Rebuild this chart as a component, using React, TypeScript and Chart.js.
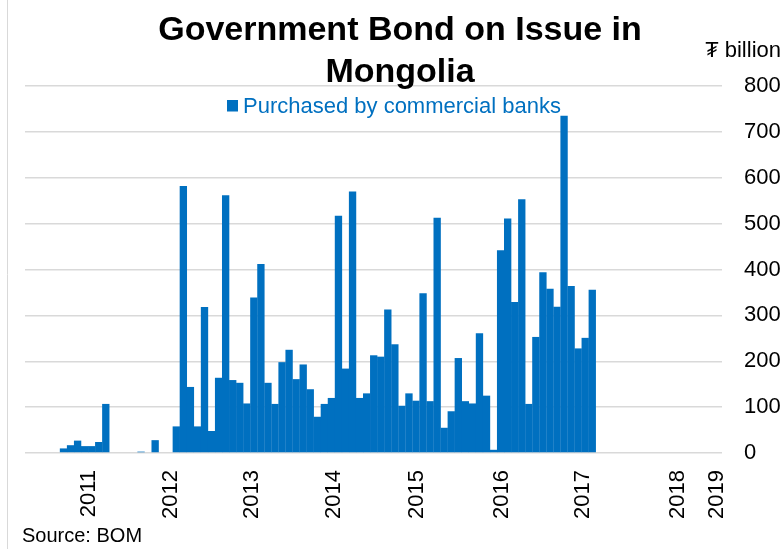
import React, { useEffect, useRef } from "react";
import { Chart, registerables } from "chart.js";

Chart.register(...registerables);

const FONT = '"Liberation Sans", Arial, "DejaVu Sans", sans-serif';
const BLUE = "#0070C0";

const titleLines = ["Government Bond on Issue in", "Mongolia"];
const seriesName = "Purchased by commercial banks";
const unitLabel = "₮ billion";
const sourceText = "Source: BOM";

// monthly values (₮ billion), one per month starting late 2010
const purchasedByBanks = [
  10, 17, 27, 15, 15, 24, 107, 0, 0, 0, 0, 3, 0, 28, 0, 0,
  58, 582, 144, 58, 318, 48, 164, 562, 159, 153, 108, 339, 412, 153, 107, 198,
  225, 161, 193, 139, 79, 107, 120, 517, 184, 570, 120, 130, 213, 210, 313, 237,
  103, 130, 114, 348, 113, 513, 55, 91, 207, 113, 108, 261, 125, 7, 442, 511,
  329, 553, 107, 253, 394, 358, 319, 735, 364, 228, 251, 356,
];

// year tick labels and where they sit on the month axis (in month-index units)
const yearLabels = ["2011", "2012", "2013", "2014", "2015", "2016", "2017", "2018", "2019"];
const yearTickMonths = [3.6, 15.3, 26.7, 38.4, 50.2, 62.2, 73.7, 87.1, 92.7];
const monthAxisMin = -5.46;
const monthAxisMax = 93.4;

const yMin = 0;
const yMax = 800;
const yStep = 100;

const decor = {
  id: "decor",
  afterDraw(chart: any) {
    const ctx = chart.ctx as CanvasRenderingContext2D;
    const ds = chart.data.datasets[0];
    ctx.save();
    ctx.strokeStyle = "#d9d9d9";
    ctx.lineWidth = 1;
    ctx.beginPath();
    ctx.moveTo(7.5, 0);
    ctx.lineTo(7.5, chart.height);
    ctx.stroke();

    ctx.fillStyle = "#000";
    ctx.textBaseline = "alphabetic";
    ctx.textAlign = "center";
    ctx.font = `bold 34px ${FONT}`;
    titleLines.forEach((t, i) => ctx.fillText(t, 400, 40 + i * 41.5));

    ctx.fillStyle = ds.backgroundColor;
    ctx.fillRect(227, 100, 11, 11.5);
    ctx.font = `22px ${FONT}`;
    ctx.textAlign = "left";
    ctx.fillText(ds.label, 243, 113);

    ctx.fillStyle = "#000";
    ctx.textAlign = "right";
    ctx.fillText(unitLabel, 781, 57);

    ctx.font = `20px ${FONT}`;
    ctx.textAlign = "left";
    ctx.fillText(sourceText, 22, 542);
    ctx.restore();
  },
};

export default function App() {
  const ref = useRef<HTMLCanvasElement>(null);

  useEffect(() => {
    if (!ref.current) return;
    const chart = new Chart(ref.current, {
      type: "bar",
      data: {
        datasets: [
          {
            label: seriesName,
            data: purchasedByBanks.map((v, i) => ({ x: i, y: v })),
            backgroundColor: BLUE,
            borderWidth: 0,
            barPercentage: 1.04,
            categoryPercentage: 1,
          },
        ],
      },
      options: {
        animation: false,
        responsive: false,
        layout: { padding: { left: 25, top: 86, right: 0, bottom: 0 } },
        plugins: {
          legend: { display: false },
          title: { display: false },
          tooltip: { enabled: false },
        },
        scales: {
          x: {
            type: "linear",
            offset: false,
            min: monthAxisMin,
            max: monthAxisMax,
            grid: { display: false, drawTicks: false },
            border: { display: false },
            afterBuildTicks: (scale: any) => {
              scale.ticks = yearTickMonths.map((v) => ({ value: v }));
            },
            afterFit: (scale: any) => {
              scale.height = 96;
            },
            ticks: {
              autoSkip: false,
              minRotation: 90,
              maxRotation: 90,
              padding: 17,
              color: "#000",
              font: { family: FONT, size: 22 },
              callback: (_v: any, i: number) => yearLabels[i],
            },
          },
          y: {
            position: "right",
            min: yMin,
            max: yMax,
            grid: { color: "#d9d9d9", lineWidth: 1.5, drawTicks: false },
            border: { display: false },
            afterFit: (scale: any) => {
              scale.width = 61;
            },
            ticks: {
              stepSize: yStep,
              padding: 22,
              color: "#000",
              font: { family: FONT, size: 22 },
            },
          },
        },
      },
      plugins: [decor],
    });
    return () => chart.destroy();
  }, []);

  return (
    <div style={{ position: "fixed", left: 0, top: 0, width: 783, height: 549, background: "#fff" }}>
      <canvas ref={ref} width={783} height={549} style={{ display: "block" }} />
    </div>
  );
}
